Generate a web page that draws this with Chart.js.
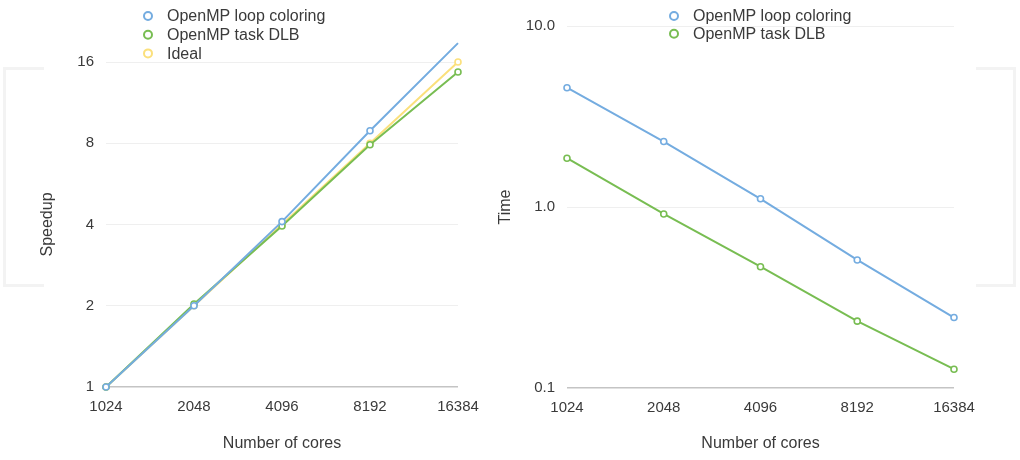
<!DOCTYPE html>
<html>
<head>
<meta charset="utf-8">
<title>OpenMP scaling</title>
<script src="https://cdn.jsdelivr.net/npm/chart.js@4/dist/chart.umd.min.js"></script>
<style>
    html, body { margin: 0; padding: 0; background: #fff; }
    #wrap { position: relative; width: 1020px; height: 460px; overflow: hidden; }
    .frame { position: absolute; top: 67px; height: 214px; border: 3px solid #f3f3f3; }
    #frameL { left: 3px; width: 38px; border-right: none; }
    #frameR { left: 976px; width: 37px; border-left: none; }
    canvas { position: absolute; top: 0; }
    #speedupChart { left: 0; }
    #timeChart { left: 490px; }
</style>
</head>
<body>
<div id="wrap">
    <div class="frame" id="frameL"></div>
    <div class="frame" id="frameR"></div>
    <canvas id="speedupChart" width="490" height="460"></canvas>
    <canvas id="timeChart" width="530" height="460"></canvas>
</div>
<script>
// Strong scaling: speedup (left) and time (right) vs number of cores
const cores = ['1024', '2048', '4096', '8192', '16384'];

const speedupLoop = [1, 2.0, 4.1, 8.9, 18.8];
const speedupTask = [1, 2.03, 3.95, 7.9, 14.7];
const speedupIdeal = [1, 2, 4, 8, 16];
const speedupTicks = [1, 2, 4, 8, 16];

const timeLoop = [4.56, 2.30, 1.11, 0.51, 0.245];
const timeTask = [1.86, 0.915, 0.468, 0.234, 0.127];
const timeTicks = [0.1, 1, 10];

const BLUE = '#74ace0';
const GREEN = '#78bd52';
const YELLOW = '#fbe07c';
const TEXT = '#3a3a3a';
const FONT = '"Liberation Sans", Arial, sans-serif';

Chart.defaults.font.family = FONT;
Chart.defaults.color = TEXT;

function lineSet(label, data, color) {
    return {
        label: label,
        data: data,
        borderColor: color,
        backgroundColor: '#fff',
        borderWidth: 2,
        pointRadius: 3,
        pointBorderWidth: 1.6,
        pointBackgroundColor: '#fff',
        pointBorderColor: color,
        tension: 0,
        clip: false
    };
}

// legend stacked one item per line, drawn by hand
function stackedLegend(x, y, rowH) {
    return {
        id: 'stackedLegend',
        afterDraw(chart) {
            const ctx = chart.ctx;
            ctx.save();
            ctx.font = '16px ' + FONT;
            ctx.textBaseline = 'middle';
            chart.data.datasets.forEach((ds, i) => {
                const cy = y + i * rowH;
                ctx.beginPath();
                ctx.arc(x, cy, 4, 0, Math.PI * 2);
                ctx.fillStyle = '#fff';
                ctx.fill();
                ctx.lineWidth = 2;
                ctx.strokeStyle = ds.borderColor;
                ctx.stroke();
                ctx.fillStyle = TEXT;
                ctx.fillText(ds.label, x + 19, cy + 1);
            });
            ctx.restore();
        }
    };
}

function xAxis(height) {
    return {
        type: 'category',
        offset: false,
        grid: { display: false, drawTicks: false },
        border: { display: false },
        ticks: { padding: 11, font: { size: 15 }, color: TEXT },
        title: { display: true, text: 'Number of cores', font: { size: 16 }, color: TEXT, padding: { top: 4, bottom: 7 } },
        afterFit: s => { s.height = height; }
    };
}

function yAxis(title, min, max, ticks, baseVal, fmt, width) {
    return {
        type: 'logarithmic',
        min: min,
        max: max,
        border: { display: false },
        grid: {
            drawTicks: false,
            color: c => (c.tick && c.tick.value === baseVal) ? '#c4c4c4' : '#efefef',
            lineWidth: c => (c.tick && c.tick.value === baseVal) ? 1.5 : 1
        },
        ticks: { padding: 12, font: { size: 15 }, color: TEXT, callback: fmt },
        afterBuildTicks: s => { s.ticks = ticks.map(v => ({ value: v })); },
        title: { display: true, text: title, font: { size: 16 }, color: TEXT, padding: { top: 4, bottom: 4 } },
        afterFit: s => { s.width = width; }
    };
}

function renderSpeedup() {
    const ctx = document.getElementById('speedupChart').getContext('2d');
    new Chart(ctx, {
        type: 'line',
        data: {
            labels: cores,
            datasets: [
                lineSet('OpenMP loop coloring', speedupLoop, BLUE),
                lineSet('OpenMP task DLB', speedupTask, GREEN),
                lineSet('Ideal', speedupIdeal, YELLOW)
            ]
        },
        options: {
            responsive: false,
            animation: false,
            devicePixelRatio: 1,
            layout: { padding: { left: 34, right: 32, top: 62, bottom: 0 } },
            plugins: { legend: { display: false }, tooltip: { enabled: false } },
            scales: {
                x: xAxis(73),
                y: yAxis('Speedup', 1, 16, speedupTicks, 1, v => String(v), 72)
            }
        },
        plugins: [stackedLegend(148, 16, 18.7)]
    });
}

function renderTime() {
    const ctx = document.getElementById('timeChart').getContext('2d');
    new Chart(ctx, {
        type: 'line',
        data: {
            labels: cores,
            datasets: [
                lineSet('OpenMP loop coloring', timeLoop, BLUE),
                lineSet('OpenMP task DLB', timeTask, GREEN)
            ]
        },
        options: {
            responsive: false,
            animation: false,
            devicePixelRatio: 1,
            layout: { padding: { left: 2, right: 66, top: 26, bottom: 0 } },
            plugins: { legend: { display: false }, tooltip: { enabled: false } },
            scales: {
                x: xAxis(72),
                y: yAxis('Time', 0.1, 10, timeTicks, 0.1, v => Number(v).toFixed(1), 75)
            }
        },
        plugins: [stackedLegend(184, 16, 17.7)]
    });
}

document.addEventListener('DOMContentLoaded', function () {
    renderSpeedup();
    renderTime();
});
</script>
</body>
</html>
